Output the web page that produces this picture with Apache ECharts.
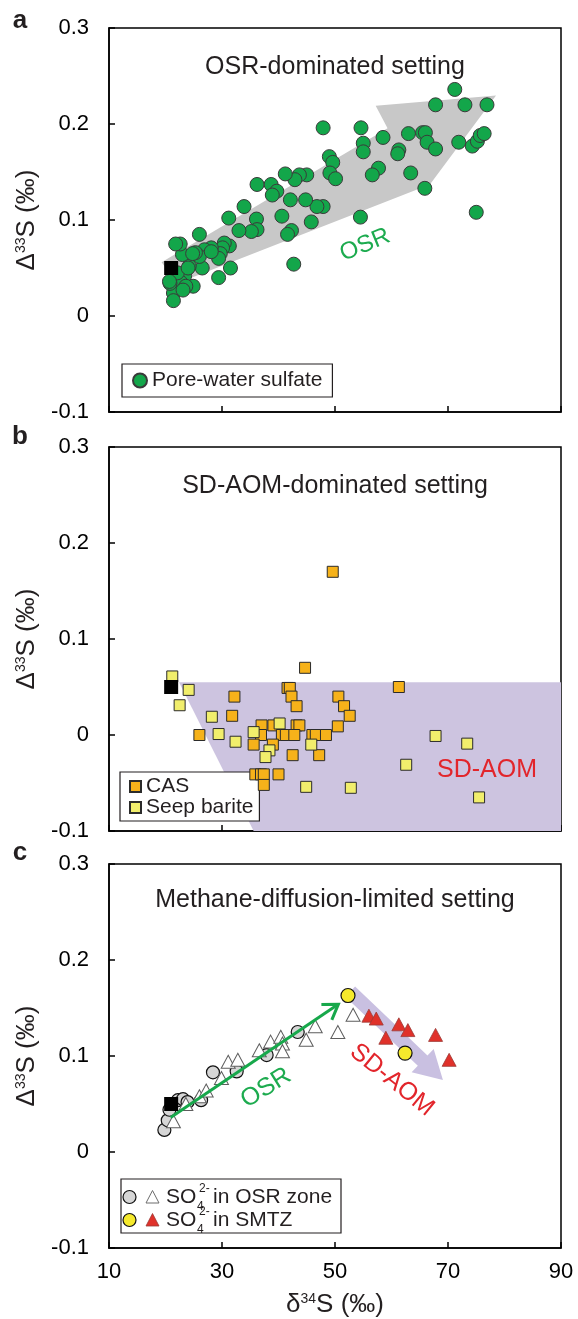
<!DOCTYPE html>
<html>
<head>
<meta charset="utf-8">
<script src="https://cdn.jsdelivr.net/npm/echarts@6/dist/echarts.min.js"></script>
<style>
  html, body { margin: 0; padding: 0; background: #fff; }
  #chart { width: 578px; height: 1319px; }
</style>
</head>
<body>
<div id="chart"></div>
<script>
// x = δ34S (‰), y = Δ33S (‰)
var xTicks = [10, 30, 50, 70, 90];
var yTicks = [-0.1, 0, 0.1, 0.2, 0.3];
var seawater = [[21.0, 0.050]];

// panel a
var poreWater = [
  [71.2,0.236],[67.8,0.220],[73.0,0.220],[76.9,0.220],[47.9,0.196],[54.6,0.196],[55.0,0.180],[55.0,0.171],
  [58.5,0.186],[63.0,0.190],[65.5,0.191],[66.0,0.191],[66.3,0.181],[67.8,0.174],[61.3,0.173],[61.1,0.169],
  [71.9,0.181],[74.3,0.177],[75.2,0.182],[75.7,0.188],[76.4,0.190],[75.0,0.108],[65.9,0.133],[63.4,0.149],
  [57.7,0.154],[56.6,0.147],[54.5,0.103],[49.0,0.166],[49.6,0.160],[49.1,0.149],[50.1,0.143],[47.9,0.114],
  [46.8,0.114],[45.8,0.098],[44.8,0.121],[45.0,0.147],[43.7,0.147],[42.9,0.142],[41.2,0.148],[42.1,0.121],
  [40.6,0.104],[42.3,0.089],[41.6,0.085],[42.7,0.054],[38.7,0.137],[39.7,0.130],[38.9,0.126],[36.2,0.137],
  [36.1,0.101],[36.2,0.090],[35.2,0.088],[33.9,0.114],[33.0,0.089],[31.2,0.102],[31.3,0.073],[31.5,0.050],
  [30.4,0.076],[30.1,0.071],[29.7,0.065],[29.4,0.060],[29.4,0.040],[28.1,0.071],[26.9,0.069],[26.5,0.050],
  [26.0,0.085],[26.0,0.062],[25.3,0.066],[24.9,0.031],[24.2,0.052],[23.4,0.042],[23.0,0.064],[22.6,0.075],
  [21.8,0.075],[22.7,0.035],[21.4,0.024],[21.4,0.016],[20.8,0.034],[22.1,0.045],[23.6,0.031],[24.8,0.065],
  [28.1,0.067],[24.0,0.050],[23.1,0.027],[20.7,0.036]
];
var osrWedge = [[19.3,0.056],[59.3,0.1955],[57.2,0.219],[78.5,0.2296],[66.8,0.137],[22.1,0.034]];

// panel b
var casData = [
  [49.6,0.170],[44.7,0.070],[61.3,0.050],[41.6,0.049],[42.0,0.049],[42.3,0.040],[43.2,0.030],[32.2,0.040],
  [31.8,0.020],[50.6,0.040],[51.6,0.030],[52.6,0.020],[50.5,0.009],[26.0,0.000],[37.0,0.010],[39.1,0.010],
  [43.2,0.010],[43.7,0.010],[36.9,0.000],[40.6,0.000],[41.3,0.000],[42.8,0.000],[46.0,0.000],[46.6,0.000],
  [48.4,0.000],[35.6,-0.010],[39.0,-0.010],[42.5,-0.021],[47.2,-0.021],[35.9,-0.041],[36.9,-0.041],
  [37.4,-0.041],[40.0,-0.041],[37.4,-0.052]
];
var bariteData = [
  [21.2,0.061],[24.1,0.047],[22.5,0.031],[28.2,0.019],[29.4,0.001],[32.4,-0.007],[35.6,0.003],[40.2,0.012],
  [38.4,-0.016],[37.7,-0.023],[45.8,-0.010],[44.9,-0.054],[52.8,-0.055],[67.8,-0.001],[73.4,-0.009],
  [62.6,-0.031],[75.5,-0.065]
];
var aomField = [[22.4,0.055],[90,0.055],[90,-0.1],[35.6,-0.1]];

// panel c
var osrZoneCircle = [
  [19.8,0.023],[20.4,0.033],[20.7,0.044],[22.2,0.054],[23.1,0.055],[23.9,0.052],[26.3,0.054],[28.4,0.083],
  [32.6,0.084],[37.9,0.101],[43.4,0.125]
];
var osrZoneTri = [
  [21.4,0.032],[23.6,0.050],[26.0,0.058],[27.2,0.064],[29.9,0.077],[31.1,0.094],[32.8,0.096],[36.6,0.106],
  [38.6,0.115],[40.4,0.120],[40.7,0.113],[40.7,0.105],[44.9,0.117],[46.5,0.131],[50.5,0.125],[53.2,0.143]
];
var smtzCircle = [[52.3,0.163],[62.4,0.103]];
var smtzTri = [[56.0,0.142],[57.3,0.139],[59.0,0.119],[61.3,0.133],[62.9,0.127],[67.8,0.122],[70.2,0.096]];
var osrArrowC = [[20.9,0.036],[50.6,0.154]];
var aomArrowC = [[52.7,0.167],[69.1,0.075]];

var FONT = "'Liberation Sans', Arial, sans-serif";
var INK = '#231f20';
var tops = [28, 447, 864];

var chart = echarts.init(document.getElementById('chart'));

function titleRich() {
  return { color: INK, fontFamily: FONT,
    rich: { a: { fontSize: 26, fontFamily: FONT, color: INK },
            s: { fontSize: 14, fontFamily: FONT, color: INK, verticalAlign: 'top' } } };
}

function yAxis(i) {
  return {
    gridIndex: i, type: 'value', min: yTicks[0], max: yTicks[yTicks.length - 1], interval: 0.1,
    axisLine: { show: true, onZero: false, lineStyle: { color: '#000', width: 1.5 } },
    axisTick: { inside: true, length: 6, lineStyle: { color: '#000', width: 1.5 } },
    axisLabel: { fontSize: 22, color: '#000', fontFamily: FONT, margin: 20,
      formatter: function (v) { return String(+v.toFixed(1)); } },
    splitLine: { show: false },
    name: '{a|Δ}{s|33}{a|S (‰)}', nameLocation: 'middle', nameGap: 67, nameRotate: 90,
    nameTextStyle: titleRich()
  };
}
function xAxis(i) {
  var ax = {
    gridIndex: i, type: 'value', min: xTicks[0], max: xTicks[xTicks.length - 1], interval: 20,
    axisLine: { show: true, onZero: false, lineStyle: { color: '#000', width: 1.5 } },
    axisTick: { inside: true, length: 6, lineStyle: { color: '#000', width: 1.5 } },
    axisLabel: { show: i === 2, fontSize: 22, color: '#000', fontFamily: FONT, margin: 13 },
    splitLine: { show: false }
  };
  if (i === 2) {
    ax.name = '{a|δ}{s|34}{a|S (‰)}';
    ax.nameLocation = 'middle';
    ax.nameGap = 44;
    ax.nameTextStyle = titleRich();
  }
  return ax;
}

function polygonSeries(i, pts, color, z) {
  return {
    type: 'custom', xAxisIndex: i, yAxisIndex: i, data: [[pts[0][0], pts[0][1]]], z: z, clip: true,
    silent: true,
    renderItem: function (params, api) {
      return { type: 'polygon', shape: { points: pts.map(function (p) { return api.coord(p); }) },
               style: { fill: color } };
    }
  };
}

// fat arrow (shaft + head) in pixel space between two data points
function fatArrowSeries(i, ends, color, halfW, headHalf, headLen) {
  return {
    type: 'custom', xAxisIndex: i, yAxisIndex: i, data: [[ends[0][0], ends[0][1]]], z: 1, silent: true,
    renderItem: function (params, api) {
      var s = api.coord(ends[0]), t = api.coord(ends[1]);
      var dx = t[0] - s[0], dy = t[1] - s[1], len = Math.sqrt(dx * dx + dy * dy);
      var ux = dx / len, uy = dy / len, nx = -uy, ny = ux;
      var bx = t[0] - ux * headLen, by = t[1] - uy * headLen;
      var pts = [
        [s[0] + nx * halfW, s[1] + ny * halfW], [bx + nx * halfW, by + ny * halfW],
        [bx + nx * headHalf, by + ny * headHalf], t,
        [bx - nx * headHalf, by - ny * headHalf], [bx - nx * halfW, by - ny * halfW],
        [s[0] - nx * halfW, s[1] - ny * halfW]
      ];
      return { type: 'polygon', shape: { points: pts }, style: { fill: color } };
    }
  };
}

// thin line with an open chevron head
function lineArrowSeries(i, ends, color) {
  return {
    type: 'custom', xAxisIndex: i, yAxisIndex: i, data: [[ends[0][0], ends[0][1]]], z: 6, silent: true,
    renderItem: function (params, api) {
      var s = api.coord(ends[0]), t = api.coord(ends[1]);
      var dx = t[0] - s[0], dy = t[1] - s[1], len = Math.sqrt(dx * dx + dy * dy);
      var ux = dx / len, uy = dy / len, nx = -uy, ny = ux;
      var L = 17, a = 0.58, c = Math.cos(a) * L, sn = Math.sin(a) * L;
      return {
        type: 'group',
        children: [
          { type: 'line', shape: { x1: s[0], y1: s[1], x2: t[0] - ux * 1.5, y2: t[1] - uy * 1.5 },
            style: { stroke: color, lineWidth: 3 } },
          { type: 'polyline',
            shape: { points: [[t[0] - ux * c + nx * sn, t[1] - uy * c + ny * sn], t,
                              [t[0] - ux * c - nx * sn, t[1] - uy * c - ny * sn]] },
            style: { stroke: color, lineWidth: 3, fill: null, lineJoin: 'miter' } }
        ]
      };
    }
  };
}

function seawaterSeries(i) {
  return { name: 'Seawater', type: 'scatter', xAxisIndex: i, yAxisIndex: i, data: seawater,
    symbol: 'rect', symbolSize: 14, z: 8, itemStyle: { color: '#000', borderWidth: 0, opacity: 1 } };
}

function txt(x, y, text, size, color, opts) {
  opts = opts || {};
  return { type: 'text', x: x, y: y, z: 100, silent: true, rotation: opts.rotation || 0,
    style: { text: text, fontSize: size, fontFamily: FONT, fill: color, fontWeight: opts.bold ? 'bold' : 'normal',
             align: opts.align || 'center', verticalAlign: 'middle' } };
}

var legendC = [
  { type: 'rect', shape: { x: 121, y: 1179, width: 220, height: 54 },
    style: { fill: '#fff', stroke: INK, lineWidth: 1.2 }, z: 50 },
  { type: 'circle', shape: { cx: 129.5, cy: 1197, r: 6.5 }, style: { fill: '#d6d6d6', stroke: '#111', lineWidth: 1.2 }, z: 51 },
  { type: 'polygon', shape: { points: [[152.5, 1190.5], [159, 1203], [146, 1203]] }, style: { fill: '#fff', stroke: '#6d6d6d', lineWidth: 1 }, z: 51 },
  { type: 'circle', shape: { cx: 129.5, cy: 1220, r: 6.5 }, style: { fill: '#f5e92c', stroke: '#111', lineWidth: 1.2 }, z: 51 },
  { type: 'polygon', shape: { points: [[152.5, 1213.5], [159, 1226], [146, 1226]] }, style: { fill: '#e0312a', stroke: '#9a3a36', lineWidth: 0.8 }, z: 51 }
];
[[1197, 'in OSR zone'], [1220, 'in SMTZ']].forEach(function (row) {
  var y = row[0];
  legendC.push(txt(166, y, 'SO', 21, INK, { align: 'left' }));
  legendC.push(txt(197, y + 10, '4', 12, INK, { align: 'left' }));
  legendC.push(txt(199, y - 8, '2-', 12, INK, { align: 'left' }));
  legendC.push(txt(213, y, row[1], 21, INK, { align: 'left' }));
});

chart.setOption({
  backgroundColor: '#fff',
  animation: false,
  grid: tops.map(function (t) {
    return { left: 109, top: t, width: 452, height: 384, show: true, borderColor: '#000', borderWidth: 1.5,
             backgroundColor: 'transparent' };
  }),
  xAxis: [xAxis(0), xAxis(1), xAxis(2)],
  yAxis: [yAxis(0), yAxis(1), yAxis(2)],
  legend: [
    { data: ['Pore-water sulfate'], left: 122, top: 364, orient: 'vertical', backgroundColor: '#fff',
      borderColor: INK, borderWidth: 1.2, padding: [6, 10, 6, 10], itemWidth: 14, itemHeight: 14, itemGap: 0,
      textStyle: { fontSize: 21, color: INK, fontFamily: FONT } },
    { data: ['CAS', 'Seep barite'], left: 120, top: 772, orient: 'vertical', backgroundColor: '#fff',
      borderColor: INK, borderWidth: 1.2, padding: [4, 6, 3, 9], itemWidth: 11, itemHeight: 11, itemGap: 0,
      textStyle: { fontSize: 21, lineHeight: 20, color: INK, fontFamily: FONT } }
  ],
  series: [
    polygonSeries(0, osrWedge, '#c8c8c8', 1),
    { name: 'Pore-water sulfate', type: 'scatter', xAxisIndex: 0, yAxisIndex: 0, data: poreWater,
      symbol: 'circle', symbolSize: 14, z: 5,
      itemStyle: { color: '#13a64a', borderColor: '#3a3a3a', borderWidth: 1, opacity: 1 } },
    seawaterSeries(0),

    polygonSeries(1, aomField, '#cdc4e0', 1),
    { name: 'CAS', type: 'scatter', xAxisIndex: 1, yAxisIndex: 1, data: casData,
      symbol: 'rect', symbolSize: 11, z: 5,
      itemStyle: { color: '#f6b21a', borderColor: '#2b2b2b', borderWidth: 1, opacity: 1 } },
    { name: 'Seep barite', type: 'scatter', xAxisIndex: 1, yAxisIndex: 1, data: bariteData,
      symbol: 'rect', symbolSize: 11, z: 6,
      itemStyle: { color: '#f1ee6c', borderColor: '#2b2b2b', borderWidth: 1, opacity: 1 } },
    seawaterSeries(1),

    fatArrowSeries(2, aomArrowC, '#c9c0e1', 7, 16, 28),
    { name: 'OSR zone circle', type: 'scatter', xAxisIndex: 2, yAxisIndex: 2, data: osrZoneCircle,
      symbol: 'circle', symbolSize: 13, z: 4,
      itemStyle: { color: '#d6d6d6', borderColor: '#111', borderWidth: 1.2, opacity: 1 } },
    { name: 'OSR zone triangle', type: 'scatter', xAxisIndex: 2, yAxisIndex: 2, data: osrZoneTri,
      symbol: 'triangle', symbolSize: [14, 13], z: 4,
      itemStyle: { color: '#fff', borderColor: '#5e5e5e', borderWidth: 1, opacity: 1 } },
    { name: 'SMTZ circle', type: 'scatter', xAxisIndex: 2, yAxisIndex: 2, data: smtzCircle,
      symbol: 'circle', symbolSize: 14, z: 5,
      itemStyle: { color: '#f5e92c', borderColor: '#111', borderWidth: 1.2, opacity: 1 } },
    { name: 'SMTZ triangle', type: 'scatter', xAxisIndex: 2, yAxisIndex: 2, data: smtzTri,
      symbol: 'triangle', symbolSize: [14, 13], z: 5,
      itemStyle: { color: '#e0312a', borderColor: '#9a3a36', borderWidth: 0.8, opacity: 1 } },
    lineArrowSeries(2, osrArrowC, '#17a84b'),
    seawaterSeries(2)
  ],
  graphic: [
    txt(20, 21, 'a', 26, INK, { bold: true }),
    txt(20, 437, 'b', 26, INK, { bold: true }),
    txt(20, 853, 'c', 26, INK, { bold: true }),
    txt(335, 67, 'OSR-dominated setting', 25, INK),
    txt(335, 486, 'SD-AOM-dominated setting', 25, INK),
    txt(335, 900, 'Methane-diffusion-limited setting', 25, INK),
    txt(365, 245, 'OSR', 24, '#1dab4f', { rotation: 0.39 }),
    txt(487, 770, 'SD-AOM', 25, '#e2252b'),
    txt(266, 1088, 'OSR', 25, '#1dab4f', { rotation: 0.56 }),
    txt(392, 1080, 'SD-AOM', 25, '#e2252b', { rotation: -0.68 })
  ].concat(legendC)
});
</script>
</body>
</html>
